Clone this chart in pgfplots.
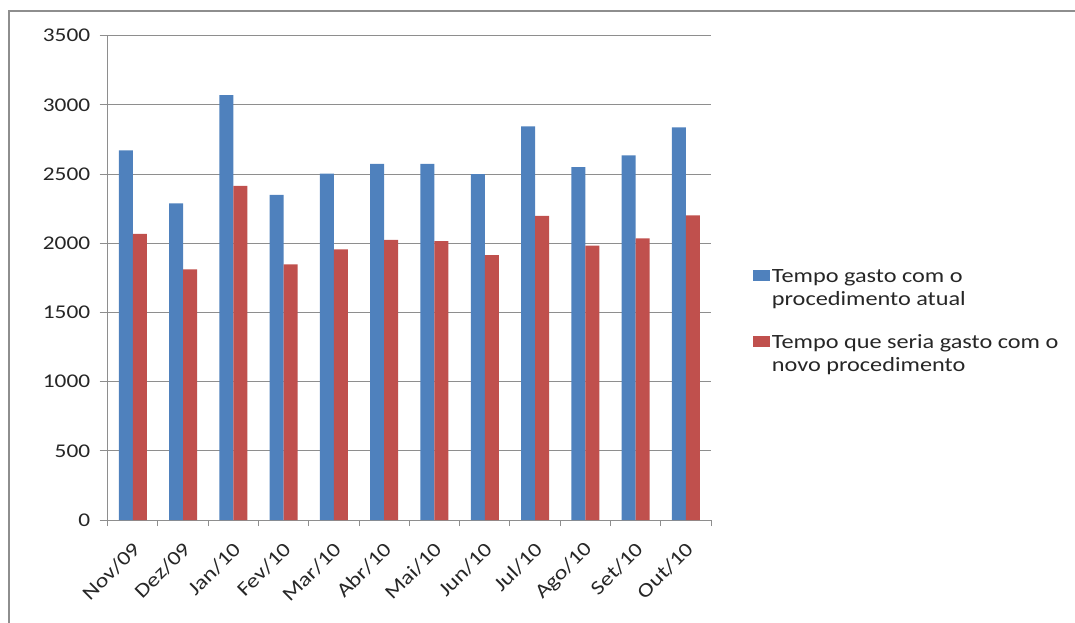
\documentclass[border=0pt]{standalone}
\usepackage{fontspec}
\setmainfont{Carlito}[FakeStretch=1.2]
\usepackage{pgfplots}
\pgfplotsset{compat=1.18}
\definecolor{serA}{HTML}{4F81BD}
\definecolor{serB}{HTML}{C0504D}
\definecolor{linegray}{HTML}{8E8E8E}

\begin{document}
\begin{tikzpicture}
% outer chart frame
\draw[linegray, line width=2bp] (-98.7bp,-120bp) -- (-98.7bp,509bp) -- (990bp,509bp);
\begin{axis}[
  anchor=south west, at={(0,0)},
  scale only axis, width=603.3bp, height=484.3bp,
  ymin=0, ymax=3500, ytick={0,500,...,3500},
  xmin=-0.5, xmax=11.5,
  xtick={0,...,11},
  xticklabels={Nov/09,Dez/09,Jan/10,Fev/10,Mar/10,Abr/10,Mai/10,Jun/10,Jul/10,Ago/10,Set/10,Out/10},
  minor xtick={-0.5,0.5,...,11.5},
  ybar=0pt, bar width=14bp,
  axis x line*=bottom, axis y line*=left,
  axis line style={linegray, line width=1bp},
  ymajorgrids, grid style={linegray, line width=1bp},
  tick align=outside,
  major x tick style={draw=none},
  minor x tick style={linegray, line width=1bp},
  minor tick length=6bp,
  ytick style={linegray, line width=1bp},
  major tick length=8bp,
  /pgf/number format/assume math mode=true,
  /pgf/number format/1000 sep={},
  scaled y ticks=false,
  tick label style={font=\fontsize{19.5}{23}\selectfont, text=black!85},
  yticklabel style={xshift=-6bp},
  xticklabel style={font=\fontsize{20}{23}\selectfont, rotate=45, anchor=east, xshift=-6.6bp, yshift=-15.4bp},
  legend style={draw=none, fill=none, at={(axis description cs:1.065,0.525)}, anchor=north west,
    font=\fontsize{20.3}{23.3}\selectfont, text=black!85, row sep=24bp,
    nodes={align=left, inner sep=1.5bp}, cells={anchor=base west}},
  legend image code/.code={\fill[#1,draw=none] (-3bp,24.3bp) rectangle (14bp,35.7bp);},
]
\addplot[fill=serA, draw=none] coordinates {
  (0,2672) (1,2289) (2,3071) (3,2349) (4,2503) (5,2573)
  (6,2573) (7,2500) (8,2845) (9,2551) (10,2635) (11,2838)};
\addplot[fill=serB, draw=none] coordinates {
  (0,2067) (1,1812) (2,2414) (3,1848) (4,1956) (5,2024)
  (6,2016) (7,1915) (8,2197) (9,1982) (10,2036) (11,2202)};
\legend{Tempo gasto com o\\procedimento atual, Tempo que seria gasto com o\\novo procedimento}
\end{axis}
\pgfresetboundingbox
\useasboundingbox (-107.7bp,-103bp) rectangle (967.3bp,520bp);
\end{tikzpicture}
\end{document}
